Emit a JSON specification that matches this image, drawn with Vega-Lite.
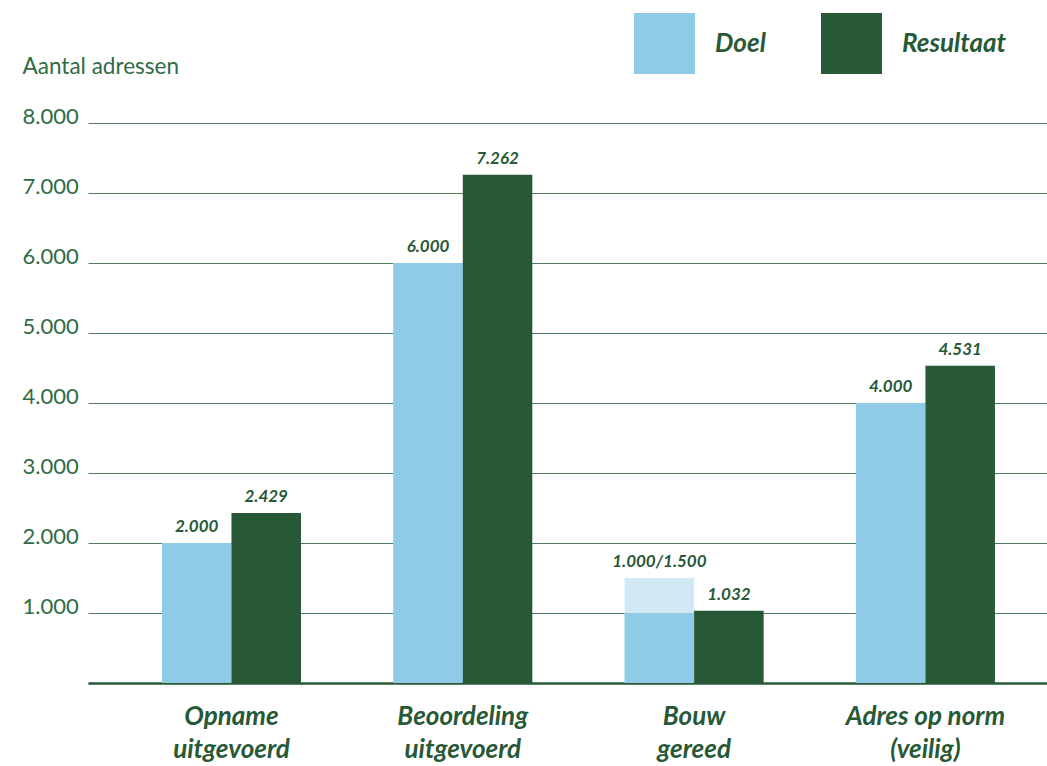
{
  "$schema": "https://vega.github.io/schema/vega-lite/v6.json",
  "width": 959,
  "height": 560,
  "autosize": {"type": "none"},
  "padding": {"left": 88, "top": 123, "right": 0, "bottom": 83},
  "background": "white",
  "config": {
    "view": {"stroke": null},
    "font": "Lato",
    "text": {"font": "Lato"}
  },
  "data": {
    "values": [
      {"category": "Opname uitgevoerd", "series": "Doel", "value": 2000, "high": 2000, "label": "2.000"},
      {"category": "Opname uitgevoerd", "series": "Resultaat", "value": 2429, "high": 2429, "label": "2.429"},
      {"category": "Beoordeling uitgevoerd", "series": "Doel", "value": 6000, "high": 6000, "label": "6.000"},
      {"category": "Beoordeling uitgevoerd", "series": "Resultaat", "value": 7262, "high": 7262, "label": "7.262"},
      {"category": "Bouw gereed", "series": "Doel", "value": 1000, "high": 1500, "label": "1.000/1.500"},
      {"category": "Bouw gereed", "series": "Resultaat", "value": 1032, "high": 1032, "label": "1.032"},
      {"category": "Adres op norm (veilig)", "series": "Doel", "value": 4000, "high": 4000, "label": "4.000"},
      {"category": "Adres op norm (veilig)", "series": "Resultaat", "value": 4531, "high": 4531, "label": "4.531"}
    ]
  },
  "encoding": {
    "x": {
      "field": "category",
      "type": "nominal",
      "sort": null,
      "scale": {"paddingInner": 0.399, "paddingOuter": 0.2723, "align": 0.587},
      "axis": {
        "title": null,
        "labelAngle": 0,
        "labelFont": "Lato",
        "labelFontSize": 26,
        "labelFontWeight": "bold",
        "labelFontStyle": "italic",
        "labelColor": "#275937",
        "labelLineHeight": 33,
        "labelPadding": 20,
        "labelLimit": 300,
        "ticks": false,
        "domainColor": "#275937",
        "domainWidth": 2.5,
        "labelExpr": "[slice(datum.label, 0, lastindexof(datum.label, ' ')), slice(datum.label, lastindexof(datum.label, ' ') + 1)]"
      }
    },
    "xOffset": {"field": "series", "type": "nominal", "sort": ["Doel", "Resultaat"], "scale": {"paddingInner": 0, "paddingOuter": 0}}
  },
  "layer": [
    {
      "transform": [{"filter": "datum.series == 'Doel'"}],
      "mark": {"type": "bar", "color": "#d2e9f5"},
      "encoding": {
        "y": {
          "field": "high",
          "type": "quantitative",
          "scale": {"domain": [0, 8000], "nice": false},
          "axis": {
            "title": "Aantal adressen",
            "values": [0, 1000, 2000, 3000, 4000, 5000, 6000, 7000, 8000],
            "labelExpr": "datum.value == 0 ? '' : replace(format(datum.value, ','), ',', '.')",
            "labelFont": "Lato",
            "labelFontSize": 22,
            "labelColor": "#2f6b45",
            "labelAlign": "left",
            "labelBaseline": "alphabetic",
            "labelPadding": 66,
            "ticks": false,
            "domain": false,
            "grid": true,
            "gridColor": "#4e7d5b",
            "gridWidth": 1.2,
            "titleAngle": 0,
            "titleAlign": "left",
            "titleBaseline": "alphabetic",
            "titleX": -66,
            "titleY": -50,
            "titleFont": "Lato",
            "titleFontSize": 22.5,
            "titleFontWeight": "normal",
            "titleColor": "#2f6b45"
          }
        }
      }
    },
    {
      "mark": {"type": "bar"},
      "encoding": {
        "y": {"field": "value", "type": "quantitative"},
        "color": {
          "field": "series",
          "type": "nominal",
          "scale": {"domain": ["Doel", "Resultaat"], "range": ["#8fcae7", "#275937"]},
          "legend": {
            "title": null,
            "orient": "none",
            "legendX": 546,
            "legendY": -110,
            "direction": "horizontal",
            "symbolType": "square",
            "symbolSize": 3721,
            "symbolStrokeWidth": 0,
            "symbolOpacity": 1,
            "labelFont": "Lato",
            "labelFontSize": 26,
            "labelFontWeight": "bold",
            "labelFontStyle": "italic",
            "labelColor": "#275937",
            "labelOffset": 20,
            "columnPadding": 55,
            "padding": 0
          }
        }
      }
    },
    {
      "mark": {"type": "text", "dy": -11, "baseline": "alphabetic", "fontSize": 17, "fontWeight": "bold", "fontStyle": "italic", "color": "#275937", "font": "Lato"},
      "encoding": {
        "y": {"field": "high", "type": "quantitative"},
        "text": {"field": "label"}
      }
    }
  ]
}
